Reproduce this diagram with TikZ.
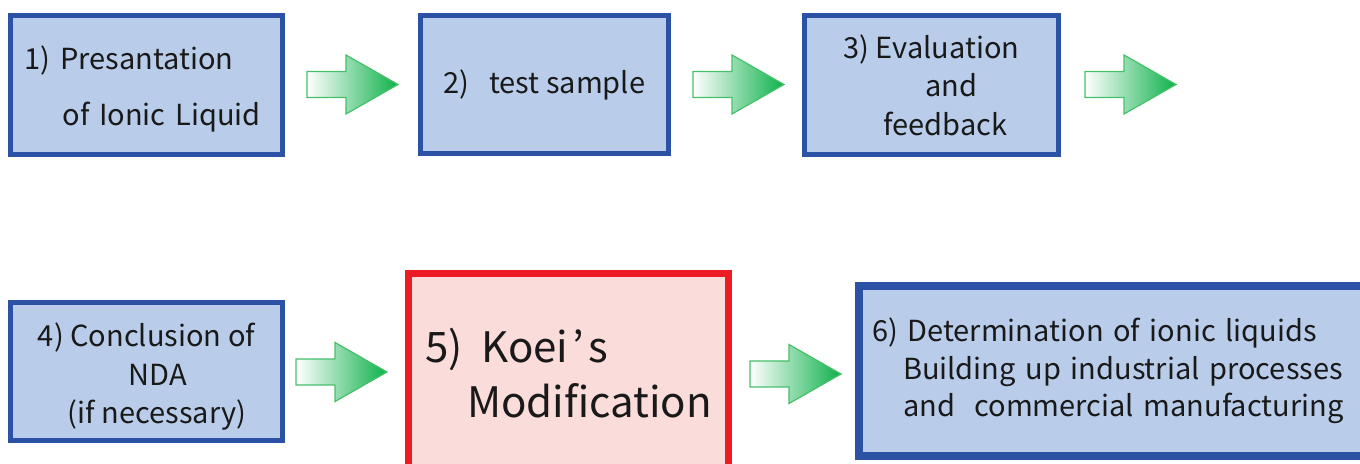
\documentclass[tikz,border=0pt]{standalone}
\usepackage{fontspec}
\setmainfont{Noto Sans CJK JP}

\definecolor{boxblue}{RGB}{43,82,165}
\definecolor{boxfill}{RGB}{185,205,235}
\definecolor{boxred}{RGB}{237,28,36}
\definecolor{boxpink}{RGB}{250,220,218}
\definecolor{arrowgreen}{RGB}{13,177,75}
\definecolor{arrowline}{RGB}{70,192,105}

\tikzset{
  box/.style={draw=boxblue, fill=boxfill, line width=2.5pt, align=left, inner ysep=0pt,
    text=black!90, font=\fontsize{14.5}{19.25}\selectfont},
  redbox/.style={box, draw=boxred, fill=boxpink, line width=3.5pt},
  blockarrow/.style={draw=arrowline, line width=0.6pt, left color=white, right color=arrowgreen}
}

\begin{document}
\begin{tikzpicture}[x=0.5pt,y=-0.5pt]
    \useasboundingbox (0,0) rectangle (1360,464);
    % boxes
    \node[box, minimum width=136pt, minimum height=69.5pt, inner xsep=7.25pt, text width=121.5pt,
      font=\fontsize{14.5}{28}\selectfont] (present) at (146,85)
      {\rule{0pt}{16pt}1) Presantation\\\hspace*{19pt}of Ionic Liquid};
    \node[box, minimum width=124pt, minimum height=69pt] (sample) at (544.5,84.5)
      {2)\ \ \ test sample};
    \node[box, minimum width=127pt, minimum height=69.5pt] (evaluate) at (931.5,85)
      {3) Evaluation\\\hspace*{41pt}and\\\hspace*{20pt}feedback};
    \node[box, minimum width=136pt, minimum height=69pt] (nda) at (146.5,371.5)
      {\rule{0pt}{17pt}4) Conclusion of\\\hspace*{45.5pt}NDA\\\hspace*{15pt}(if necessary)};
    \node[redbox, minimum width=160pt, minimum height=99.5pt,
      font=\fontsize{21}{27.5}\selectfont] (koei) at (568.5,373)
      {5)\ \ Koei\kern2pt’\kern2pt s\\\hspace*{21pt}Modification};
    \node[box, line width=4pt, minimum width=258.5pt, minimum height=85pt, inner xsep=6.5pt, text width=245.5pt,
      font=\fontsize{14.5}{18.75}\selectfont] (determine) at (1117.5,371)
      {6) Determination of ionic liquids\\\hspace*{15.5pt}Building up industrial processes\\\hspace*{15.5pt}and\ \ commercial manufacturing};
    % arrows
    \foreach \x/\y in {307/84.5, 693/84.5, 1085/84.5, 296/372, 750/374}
      \draw[blockarrow] (\x,\y-13) -- ++(39,0) -- ++(0,-16.5) -- (\x+91,\y)
        -- (\x+39,\y+29.5) -- ++(0,-16.5) -- (\x,\y+13) -- cycle;
\end{tikzpicture}
\end{document}
